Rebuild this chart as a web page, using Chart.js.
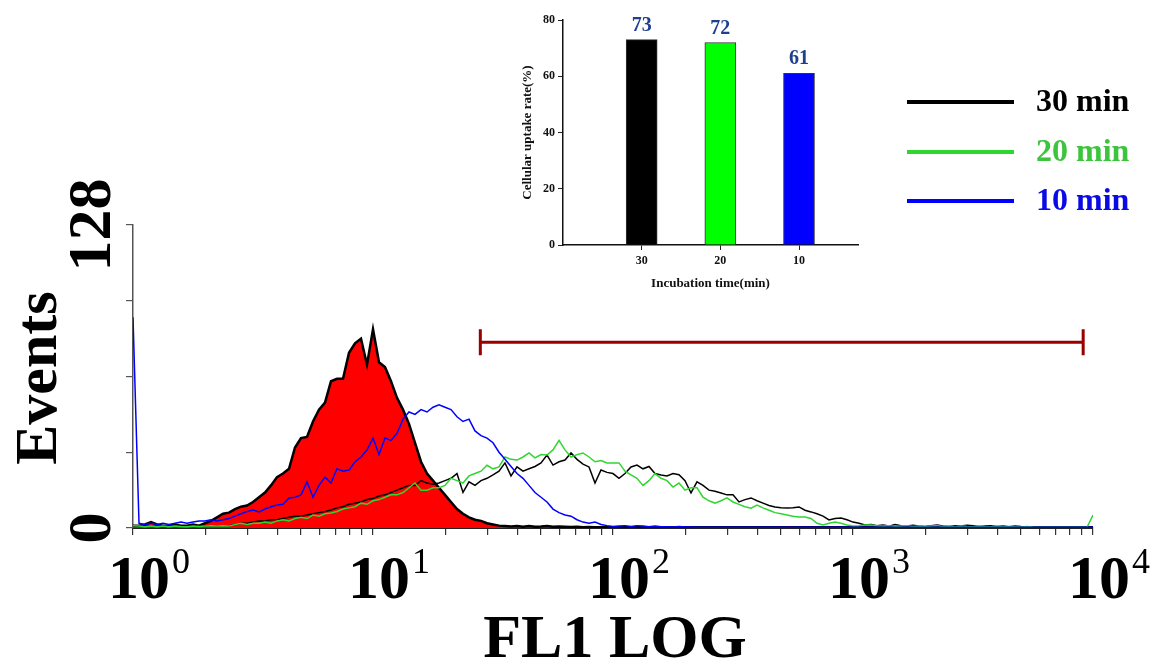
<!DOCTYPE html>
<html>
<head>
<meta charset="utf-8">
<script src="https://cdn.jsdelivr.net/npm/chart.js@4.4.1/dist/chart.umd.min.js"></script>
<style>
html, body { margin: 0; padding: 0; background: #fff; }
#wrap { position: relative; width: 1160px; height: 668px; }
#main { position: absolute; left: 0; top: 0; }
#inset { position: absolute; left: 480px; top: 0; }
</style>
</head>
<body>
<div id="wrap">
<canvas id="main" width="1160" height="668"></canvas>
<canvas id="inset" width="400" height="295"></canvas>
</div>
<script>
// histogram channels: 0.025 decade each, from 10^0 to 10^4
var logStep = 0.025;

var control = [
  1, 1, 1.5, 2.5, 1.5, 1, 1, 1.5, 1, 1,
  1.5, 1, 2, 3, 4.5, 6, 6.5, 8, 9, 9.5,
  11, 13, 15, 18, 21.5, 23, 25, 34, 38, 38.5,
  45, 50, 53, 62, 63, 63, 74, 78, 80, 69,
  84, 70, 68, 62, 55, 50, 44, 36, 28, 23,
  20, 17, 14, 11, 8, 6, 4.5, 3.5, 3, 2,
  1.5, 1, 0.8, 0.6, 0.8, 0.5, 0.8, 0.5, 0.6, 0.8,
  0.5, 0.6, 0.5, 0.4, 0.5, 0.3, 0.4, 0.3, 0.3, 0.4,
  0.3, 0.3, 0.3, 0.3, 0.3, 0.3, 0.3, 0.3, 0.3, 0.3,
  0.3, 0.3, 0.3, 0.3, 0.3, 0.3, 0.3, 0.3, 0.3, 0.3,
  0.3, 0.3, 0.3, 0.3, 0.3, 0.3, 0.3, 0.3, 0.3, 0.3,
  0.3, 0.3, 0.3, 0.3, 0.3, 0.3, 0.3, 0.3, 0.3, 0.3,
  0.3, 0.3, 0.3, 0.3, 0.3, 0.3, 0.3, 0.3, 0.3, 0.3,
  0.3, 0.3, 0.3, 0.3, 0.3, 0.3, 0.3, 0.3, 0.3, 0.3,
  0.3, 0.3, 0.3, 0.3, 0.3, 0.3, 0.3, 0.3, 0.3, 0.3,
  0.3, 0.3, 0.3, 0.3, 0.3, 0.3, 0.3, 0.3, 0.3, 0.3,
  0.3
];

var min30 = [
  1, 0.8, 1, 0.6, 0.8, 0.5, 0.8, 0.6, 0.8, 1,
  0.6, 0.8, 1, 0.8, 1, 1, 1, 1.5, 2, 2,
  2.5, 3, 3, 3.5, 3.5, 4, 4.5, 5, 5, 5.5,
  6, 6.5, 7, 7.6, 8.5, 9, 10, 10.5, 11, 12,
  12.5, 13.5, 14, 15, 16, 17, 18, 18, 20, 19,
  18.5, 19, 20, 21, 23, 15, 19.5, 18, 20, 21,
  22.4, 24, 27.5, 22, 25.8, 24, 25, 26, 27.5, 30.8,
  26.6, 28, 28.7, 31.7, 29, 27, 25.8, 19, 24.5, 23.5,
  23, 21, 23, 25.8, 26.6, 25, 26, 23, 22.4, 22,
  23, 22.5, 20, 14.8, 19.5, 18, 16, 15.5, 14.8, 14,
  14, 11, 12, 12.7, 11.5, 10.5, 9.5, 8.9, 8.6, 8.4,
  8.6, 8.9, 7.5, 6.8, 6, 5, 3.4, 4, 4.2, 3.5,
  2.5, 2, 1.3, 1.5, 1, 1.3, 0.8, 1.5, 1, 0.8,
  1.2, 0.8, 0.6, 1, 1.3, 0.8, 0.6, 1, 0.8, 1.2,
  1, 0.6, 0.8, 1, 0.6, 0.8, 0.5, 0.8, 0.6, 0.5,
  0.4, 0.3, 0.3, 0.3, 0.3, 0.3, 0.3, 0.3, 0.3, 0.3,
  0.3
];

var min20 = [
  1, 0.8, 0.5, 0.8, 0.5, 0.8, 0.5, 0.8, 0.6, 0.5,
  0.8, 0.6, 0.8, 1, 0.8, 1, 0.8, 1.5, 2, 1.5,
  2, 2, 2.5, 2, 3, 3.5, 3, 4, 4.5, 4,
  5.5, 5, 6, 6.3, 7, 8, 8.5, 9, 10.5, 10,
  11.5, 12, 13, 14, 14, 15, 17, 19, 16, 16,
  17, 17, 18, 21, 20, 19, 22, 23, 24, 26.5,
  25, 25.8, 30, 29, 28.7, 30, 31.7, 29.6, 31, 30.8,
  33, 37, 33, 30, 31, 31.7, 30, 28, 28.5, 27.5,
  27.5, 27.5, 24, 22.4, 21, 18, 20, 23, 21, 20,
  17.3, 19, 16, 17, 17, 13, 11.5, 10.5, 11.5, 12.7,
  11, 10, 9, 8.4, 9.7, 8.5, 7.5, 6.5, 6, 5.5,
  5, 4.6, 4.6, 4, 2, 1.3, 2, 2.5, 2, 1.3,
  0.8, 1, 1.3, 1.3, 1, 0.8, 1, 0.6, 0.8, 1,
  0.6, 0.8, 0.5, 0.8, 1, 0.6, 0.8, 0.5, 0.8, 0.6,
  0.5, 0.8, 0.6, 0.5, 0.8, 0.5, 0.6, 0.5, 0.4, 0.6,
  0.4, 0.3, 0.3, 0.3, 0.3, 0.3, 0.3, 0.3, 0.3, 0.3,
  5.5
];

var min10 = [
  89, 2, 1.5, 2, 1.5, 2, 1.5, 2, 2.5, 2,
  2.5, 3, 3, 3.5, 3, 3.5, 4, 5, 6, 7,
  7.6, 6.8, 8, 9, 9.7, 10, 12.7, 13, 14, 19.5,
  13, 18, 21.5, 19, 25, 24, 24.5, 28, 30, 33,
  38, 31, 38, 37, 40, 46, 49, 48, 50, 49,
  51, 52, 51, 50, 47, 45, 46, 41, 39, 38,
  36, 32, 29, 26, 23, 21, 18, 15, 13, 11,
  8, 6.5, 5.5, 5, 3.5, 2.5, 2, 2.5, 1.5, 1,
  0.6, 0.8, 1, 0.6, 1, 0.8, 0.5, 0.8, 0.5, 0.5,
  0.4, 0.6, 0.4, 0.4, 0.3, 0.3, 0.3, 0.3, 0.3, 0.3,
  0.3, 0.3, 0.3, 0.3, 0.3, 0.3, 0.3, 0.3, 0.3, 0.3,
  0.3, 0.3, 0.3, 0.3, 0.3, 0.3, 0.3, 0.3, 0.3, 0.3,
  0.3, 0.3, 0.3, 0.3, 0.3, 0.3, 0.3, 0.3, 0.3, 0.3,
  0.3, 0.3, 0.3, 0.3, 0.3, 0.3, 0.3, 0.3, 0.3, 0.3,
  0.3, 0.3, 0.3, 0.3, 0.3, 0.3, 0.3, 0.3, 0.3, 0.3,
  0.3, 0.3, 0.3, 0.3, 0.3, 0.3, 0.3, 0.3, 0.3, 0.3,
  0.3
];

var seriesNames = ["30 min", "20 min", "10 min"];
var seriesColors = ["#000000", "#2fd62f", "#0000ff"];
var legendTextColors = ["#000000", "#3cc43c", "#0a0ae6"];

var decades = [1, 10, 100, 1000, 10000];
var yLabels = [0, 128];
var gate = [28, 9100];   // marker range on FL1
var gateLevel = 78.5;    // events height of the marker

// inset bar chart
var incubation = ["30", "20", "10"];
var uptake = [73, 72, 61];
var barColors = ["#000000", "#00ff00", "#0000ff"];

var serif = '"Liberation Serif", "Times New Roman", serif';

function toPoints(arr) {
  return arr.map(function (v, i) {
    return { x: Math.pow(10, i * logStep), y: v };
  });
}

var flowText = {
  id: "flowText",
  afterDraw: function (chart) {
    var ctx = chart.ctx;
    var x = chart.scales.x, y = chart.scales.y;
    ctx.save();
    ctx.fillStyle = "#000";

    // gate marker
    var gx1 = x.getPixelForValue(gate[0]);
    var gx2 = x.getPixelForValue(gate[1]);
    var gy = y.getPixelForValue(gateLevel);
    ctx.strokeStyle = "#990000";
    ctx.lineWidth = 3;
    ctx.beginPath();
    ctx.moveTo(gx1, gy); ctx.lineTo(gx2, gy);
    ctx.moveTo(gx1, gy - 13); ctx.lineTo(gx1, gy + 13);
    ctx.moveTo(gx2, gy - 13); ctx.lineTo(gx2, gy + 13);
    ctx.stroke();

    // decade labels 10^k
    decades.forEach(function (d, k) {
      var px = x.getPixelForValue(d) + 6;
      ctx.font = "bold 62px " + serif;
      ctx.textAlign = "center";
      ctx.textBaseline = "alphabetic";
      ctx.fillText("10", px, 598);
      var w = ctx.measureText("10").width;
      ctx.font = "36px " + serif;
      ctx.textAlign = "left";
      ctx.fillText(String(k), px + w / 2 + 2, 573);
    });

    ctx.font = "bold 62px " + serif;
    ctx.textAlign = "center";
    ctx.fillText("FL1 LOG", 615, 657);

    // rotated y labels
    yLabels.forEach(function (v) {
      ctx.save();
      ctx.translate(110, y.getPixelForValue(v));
      ctx.rotate(-Math.PI / 2);
      ctx.font = "bold 62px " + serif;
      ctx.textAlign = "center";
      ctx.fillText(String(v), 0, 0);
      ctx.restore();
    });
    ctx.save();
    ctx.translate(56, 378);
    ctx.rotate(-Math.PI / 2);
    ctx.font = "bold 60px " + serif;
    ctx.textAlign = "center";
    ctx.fillText("Events", 0, 0);
    ctx.restore();

    // legend
    var rows = [102, 152, 201];
    seriesNames.forEach(function (name, i) {
      ctx.strokeStyle = seriesColors[i];
      ctx.lineWidth = 4;
      ctx.beginPath();
      ctx.moveTo(907, rows[i]); ctx.lineTo(1014, rows[i]);
      ctx.stroke();
      ctx.fillStyle = legendTextColors[i];
      ctx.font = "bold 32px " + serif;
      ctx.textAlign = "left";
      ctx.textBaseline = "middle";
      ctx.fillText(name, 1036, rows[i] + 1);
    });
    ctx.restore();
  }
};

new Chart(document.getElementById("main"), {
  type: "line",
  data: {
    datasets: [{
      label: seriesNames[2],
      data: toPoints(min10),
      borderColor: seriesColors[2],
      borderWidth: 1.5,
      pointRadius: 0,
      tension: 0,
      fill: false,
    }, {
      label: seriesNames[1],
      data: toPoints(min20),
      borderColor: seriesColors[1],
      borderWidth: 1.5,
      pointRadius: 0,
      tension: 0,
      fill: false,
    }, {
      label: seriesNames[0],
      data: toPoints(min30),
      borderColor: seriesColors[0],
      borderWidth: 1.5,
      pointRadius: 0,
      tension: 0,
      fill: false,
    }, {
      label: "control",
      data: toPoints(control),
      borderColor: "#000000",
      backgroundColor: "#ff0000",
      borderWidth: 2.5,
      pointRadius: 0,
      tension: 0,
      fill: "origin",
    }],
  },
  options: {
    responsive: false,
    animation: false,
    layout: { padding: { top: 225, right: 67, left: 0, bottom: 0 } },
    plugins: {
      legend: { display: false },
      tooltip: { enabled: false },
    },
    scales: {
      x: {
        type: "logarithmic",
        min: 1,
        max: 10000,
        afterBuildTicks: function (scale) {
          var t = [];
          decades.slice(0, 4).forEach(function (d) {
            for (var m = 1; m < 10; m++) t.push({ value: d * m });
          });
          t.push({ value: decades[4] });
          scale.ticks = t;
        },
        afterFit: function (scale) { scale.height = 140; },
        grid: {
          display: true,
          drawOnChartArea: false,
          drawTicks: true,
          tickLength: 7,
          color: "#333",
          lineWidth: 1.2,
        },
        border: { display: true, color: "#222", width: 2 },
        ticks: { callback: function () { return ""; } },
      },
      y: {
        min: 0,
        max: 128,
        ticks: { stepSize: 32, callback: function () { return ""; } },
        afterFit: function (scale) { scale.width = 133; },
        grid: {
          display: true,
          drawOnChartArea: false,
          drawTicks: true,
          tickLength: 7,
          color: "#555",
          lineWidth: 1.2,
        },
        border: { display: true, color: "#555", width: 1.5 },
      },
    },
  },
  plugins: [flowText],
});

var barValues = {
  id: "barValues",
  afterDatasetsDraw: function (chart) {
    var ctx = chart.ctx;
    var meta = chart.getDatasetMeta(0);
    ctx.save();
    ctx.font = "bold 20px " + serif;
    ctx.fillStyle = "#1f3f8f";
    ctx.textAlign = "center";
    ctx.textBaseline = "alphabetic";
    meta.data.forEach(function (bar, i) {
      ctx.fillText(String(uptake[i]), bar.x, bar.y - 9);
    });
    ctx.restore();
  }
};

new Chart(document.getElementById("inset"), {
  type: "bar",
  data: {
    datasets: [{
      data: uptake.map(function (v, i) { return { x: i + 1, y: v }; }),
      backgroundColor: barColors,
      borderColor: "#333",
      borderWidth: 1,
      barThickness: 31,
    }],
  },
  options: {
    responsive: false,
    animation: false,
    layout: { padding: { left: 36, right: 22, top: 20, bottom: 0 } },
    plugins: {
      legend: { display: false },
      tooltip: { enabled: false },
    },
    scales: {
      x: {
        type: "linear",
        min: 0,
        max: 3.75,
        offset: false,
        afterBuildTicks: function (scale) {
          scale.ticks = incubation.map(function (c, i) { return { value: i + 1 }; });
        },
        afterFit: function (scale) { scale.height = 50; },
        ticks: {
          callback: function (v) { return incubation[v - 1]; },
          color: "#111",
          font: { family: serif, size: 12, weight: "bold" },
          padding: 4,
          maxRotation: 0,
        },
        grid: { offset: false, drawOnChartArea: false, drawTicks: true, tickLength: 5, color: "#222" },
        border: { display: true, color: "#111", width: 1.5 },
        title: {
          display: true,
          text: "Incubation time(min)",
          color: "#111",
          font: { family: serif, size: 13, weight: "bold" },
          padding: { top: 2, bottom: 4 },
        },
      },
      y: {
        min: 0,
        max: 80,
        ticks: {
          stepSize: 20,
          color: "#111",
          font: { family: serif, size: 12, weight: "bold" },
          padding: 3,
        },
        afterFit: function (scale) { scale.width = 47; },
        grid: { drawOnChartArea: false, drawTicks: true, tickLength: 5, color: "#222" },
        border: { display: true, color: "#111", width: 1.5 },
        title: {
          display: true,
          text: "Cellular uptake rate(%)",
          color: "#111",
          font: { family: serif, size: 13, weight: "bold" },
          padding: { top: 4, bottom: 4 },
        },
      },
    },
  },
  plugins: [barValues],
});
</script>
</body>
</html>
